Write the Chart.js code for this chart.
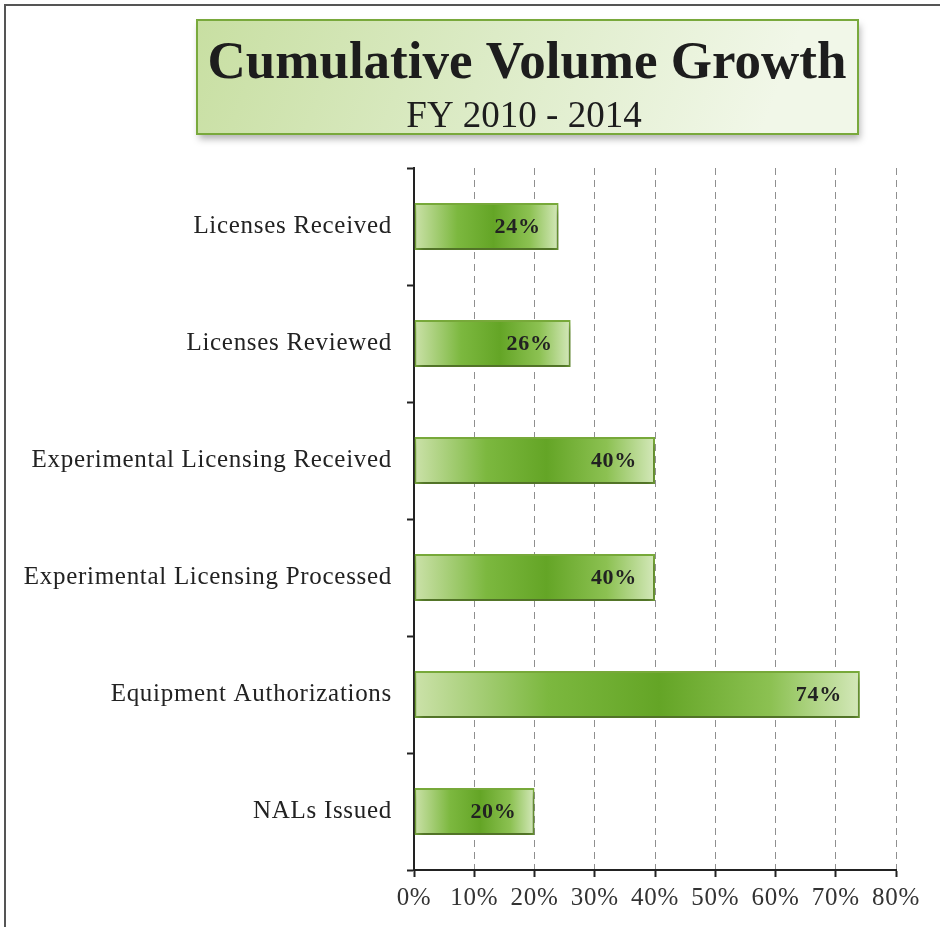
<!DOCTYPE html>
<html>
<head>
<meta charset="utf-8">
<script src="https://cdn.jsdelivr.net/npm/chart.js@4.4.1/dist/chart.umd.min.js"></script>
<style>
	html, body { margin: 0; padding: 0; background: #fff; }
	#wrap { width: 940px; height: 927px; position: relative; }
</style>
</head>
<body>
<div id="wrap"><canvas id="chart" width="940" height="927"></canvas></div>
<script>
var titleText = 'Cumulative Volume Growth';
var subtitleText = 'FY 2010 - 2014';

var categories = [
	'Licenses Received',
	'Licenses Reviewed',
	'Experimental Licensing Received',
	'Experimental Licensing Processed',
	'Equipment Authorizations',
	'NALs Issued'
];
var growthPct = [24, 26, 40, 40, 74, 20];
var xTicks = [0, 10, 20, 30, 40, 50, 60, 70, 80];

var SERIF = '"Liberation Serif", "Times New Roman", serif';

// horizontal light-dark-light green fill for each bar
function barFill(ctx) {
	var chart = ctx.chart, x = chart.scales.x;
	if (!x || !chart.chartArea || ctx.dataIndex === undefined) return '#7db43c';
	var x0 = x.getPixelForValue(0);
	var x1 = x.getPixelForValue(growthPct[ctx.dataIndex]);
	if (!isFinite(x0) || !isFinite(x1) || x1 <= x0) return '#7db43c';
	var g = chart.ctx.createLinearGradient(x0, 0, x1, 0);
	g.addColorStop(0, '#cce2aa');
	g.addColorStop(0.3, '#7cb83f');
	g.addColorStop(0.55, '#64a526');
	g.addColorStop(0.8, '#8cc152');
	g.addColorStop(1, '#d4e8ba');
	return g;
}

var framePlugin = {
	id: 'frame',
	beforeDraw: function (chart) {
		var c = chart.ctx;
		c.save();
		c.fillStyle = '#fff';
		c.fillRect(0, 0, chart.width, chart.height);
		c.strokeStyle = '#555';
		c.lineWidth = 2;
		c.strokeRect(5, 5, chart.width + 10, chart.height + 10);

		// title box
		var bx = 197, by = 20, bw = 661, bh = 114;
		c.save();
		c.shadowColor = 'rgba(0,0,0,0.3)';
		c.shadowBlur = 7;
		c.shadowOffsetX = 2;
		c.shadowOffsetY = 5;
		var g = c.createLinearGradient(bx, by, bx + bw * 0.8, by + bh * 1.8);
		g.addColorStop(0, '#c8dfa2');
		g.addColorStop(0.5, '#dcebc6');
		g.addColorStop(1, '#f1f7e8');
		c.fillStyle = g;
		c.fillRect(bx, by, bw, bh);
		c.restore();
		c.strokeStyle = '#79a93c';
		c.lineWidth = 2;
		c.strokeRect(bx, by, bw, bh);

		c.letterSpacing = '0px';
		c.fillStyle = '#1d1d1d';
		c.textAlign = 'center';
		c.textBaseline = 'alphabetic';
		c.font = 'bold 53px ' + SERIF;
		c.fillText(titleText, 527, 78);
		c.font = '37px ' + SERIF;
		c.fillText(subtitleText, 524, 127);
		c.restore();
		// scanned print looks slightly tracked out
		c.letterSpacing = '0.7px';
	},
	beforeDatasetsDraw: function (chart) {
		var c = chart.ctx;
		c.save();
		c.shadowColor = 'rgba(0,0,0,0.35)';
		c.shadowBlur = 7;
		c.shadowOffsetX = 1;
		c.shadowOffsetY = 6;
	},
	afterDatasetsDraw: function (chart) {
		var c = chart.ctx;
		c.restore();
		c.save();
		c.font = 'bold 22px ' + SERIF;
		c.fillStyle = '#222';
		c.textAlign = 'right';
		c.textBaseline = 'middle';
		chart.getDatasetMeta(0).data.forEach(function (bar, i) {
			c.fillText(growthPct[i] + '%', bar.x - 18, bar.y + 1);
		});
		c.restore();
	}
};

new Chart(document.getElementById('chart'), {
	type: 'bar',
	data: {
		labels: categories,
		datasets: [{
			data: growthPct,
			backgroundColor: barFill,
			borderColor: '#78aa3a',
			borderWidth: 2,
			borderSkipped: false,
			barPercentage: 0.4,
			categoryPercentage: 1
		}]
	},
	options: {
		indexAxis: 'y',
		responsive: false,
		animation: false,
		events: [],
		layout: { padding: { top: 168, right: 44, left: 0, bottom: 0 } },
		plugins: {
			legend: { display: false },
			tooltip: { enabled: false }
		},
		scales: {
			x: {
				min: 0,
				max: 80,
				afterBuildTicks: function (s) {
					s.ticks = xTicks.map(function (v) { return { value: v }; });
				},
				afterFit: function (s) { s.height = 57; },
				grid: {
					color: function (ctx) { return ctx.index === 0 ? 'rgba(0,0,0,0)' : '#8f8f8f'; },
					lineWidth: 1,
					tickLength: 7,
					tickColor: '#222',
					tickWidth: 2
				},
				border: { display: true, color: '#222', width: 2, dash: [7, 5] },
				ticks: {
					color: '#333',
					padding: 6,
					font: { family: SERIF, size: 25 },
					callback: function (v) { return v + '%'; }
				}
			},
			y: {
				afterFit: function (s) { s.width = 414; },
				grid: {
					drawOnChartArea: false,
					tickLength: 7,
					tickColor: '#222',
					tickWidth: 2
				},
				border: { display: true, color: '#222', width: 2 },
				ticks: {
					color: '#222',
					padding: 15,
					font: { family: SERIF, size: 25 }
				}
			}
		}
	},
	plugins: [framePlugin]
});
</script>
</body>
</html>
